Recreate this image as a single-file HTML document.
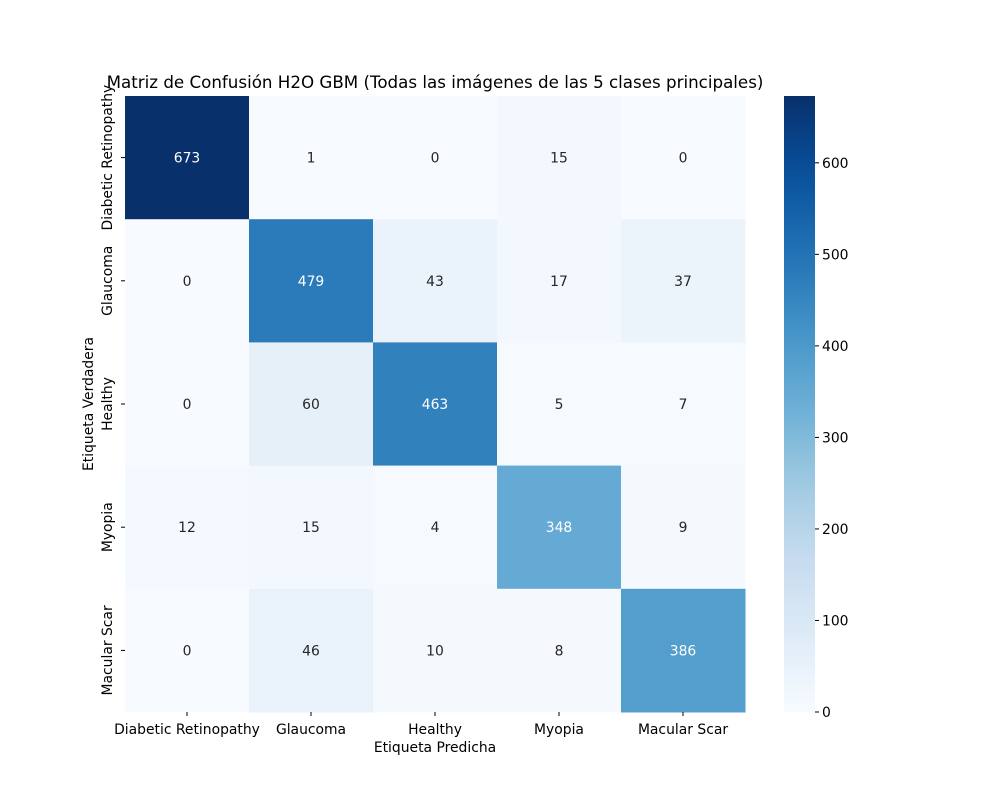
<!DOCTYPE html>
<html><head><meta charset="utf-8"><style>
body{margin:0;background:#fff;font-family:"Liberation Sans","DejaVu Sans",sans-serif}
svg text{font-family:"DejaVu Sans","Liberation Sans",sans-serif}
</style></head><body>
<svg id="c" width="1000" height="800" xmlns="http://www.w3.org/2000/svg"></svg>
<script>
const labels = ["Diabetic Retinopathy","Glaucoma","Healthy","Myopia","Macular Scar"];
const row0 = [673,1,0,15,0];
const row1 = [0,479,43,17,37];
const row2 = [0,60,463,5,7];
const row3 = [12,15,4,348,9];
const row4 = [0,46,10,8,386];
const matrix = [row0,row1,row2,row3,row4];
const cbTicks = [0,100,200,300,400,500,600];

const svg = document.getElementById('c');
const NS = "http://www.w3.org/2000/svg";
function mk(t, a, txt){const e=document.createElementNS(NS,t);for(const k in a)e.setAttribute(k,a[k]);if(txt!==undefined)e.textContent=txt;svg.appendChild(e);return e;}
const stops=["#f7fbff","#deebf7","#c6dbef","#9ecae1","#6baed6","#4292c6","#2171b5","#08519c","#08306b"].map(h=>[parseInt(h.slice(1,3),16),parseInt(h.slice(3,5),16),parseInt(h.slice(5,7),16)]);
function cmap(t){t=Math.max(0,Math.min(1,t))*8;const i=Math.min(7,Math.floor(t)),f=t-i;const a=stops[i],b=stops[i+1];return a.map((v,k)=>Math.round(v+(b[k]-v)*f));}
const vmin=0, vmax=Math.max(...matrix.flat());
const X0=125,X1=745,Y0=96,Y1=712;
const n=labels.length, cw=(X1-X0)/n, ch=(Y1-Y0)/n;
const xs=i=>X0+i*cw, ys=i=>Y0+i*ch;
const FS=13.9;

mk('text',{x:435,y:88,'text-anchor':'middle','font-size':16.7,fill:'#000'},"Matriz de Confusión H2O GBM (Todas las imágenes de las 5 clases principales)");

matrix.forEach((row,r)=>row.forEach((v,c)=>{
  const col=cmap((v-vmin)/(vmax-vmin));
  const rect=mk('rect',{x:xs(c),y:ys(r),width:cw+0.5,height:ch+0.5,fill:`rgb(${col})`});
  
  
  const lum=(0.2126*Math.pow(col[0]/255,2.2)+0.7152*Math.pow(col[1]/255,2.2)+0.0722*Math.pow(col[2]/255,2.2));
  const t=mk('text',{x:xs(c)+cw/2,y:ys(r)+ch/2+5,'text-anchor':'middle','font-size':FS,fill:lum>0.408?'#262626':'#fff'},String(v));
  
  
}));

labels.forEach((l,i)=>{
  const cx=xs(i)+cw/2;
  mk('line',{x1:cx,x2:cx,y1:Y1,y2:Y1+4,stroke:'#000'});
  const t=mk('text',{x:cx,y:Y1+22,'text-anchor':'middle','font-size':FS,fill:'#000'},l);
  
  
  const cy=ys(i)+ch/2;
  mk('line',{x1:X0-4,x2:X0,y1:cy,y2:cy,stroke:'#000'});
  const t2=mk('text',{x:0,y:0,'text-anchor':'middle','font-size':FS,fill:'#000',transform:`translate(${X0-13},${cy}) rotate(-90)`},l);
  
  
});
mk('text',{x:435,y:752,'text-anchor':'middle','font-size':FS,fill:'#000'},"Etiqueta Predicha");
mk('text',{x:0,y:0,'text-anchor':'middle','font-size':FS,fill:'#000',transform:'translate(93,404) rotate(-90)'},"Etiqueta Verdadera");

// colorbar
const CX0=784,CX1=815;
const grad=document.createElementNS(NS,'linearGradient');
grad.setAttribute('id','g');grad.setAttribute('x1','0');grad.setAttribute('y1','1');grad.setAttribute('x2','0');grad.setAttribute('y2','0');
for(let k=0;k<=20;k++){const s=document.createElementNS(NS,'stop');s.setAttribute('offset',k/20);s.setAttribute('stop-color',`rgb(${cmap(k/20)})`);grad.appendChild(s);}
const defs=mk('defs',{});defs.appendChild(grad);
const cb=mk('rect',{x:CX0,y:Y0,width:CX1-CX0,height:Y1-Y0,fill:'url(#g)'});


const cy=v=>Y1-(v-vmin)/(vmax-vmin)*(Y1-Y0);
cbTicks.forEach(v=>{
  mk('line',{x1:CX1,x2:CX1+4,y1:cy(v),y2:cy(v),stroke:'#000'});
  const t=mk('text',{x:CX1+7,y:cy(v)+5,'font-size':FS,fill:'#000'},String(v));
  
  
});
</script>
</body></html>
